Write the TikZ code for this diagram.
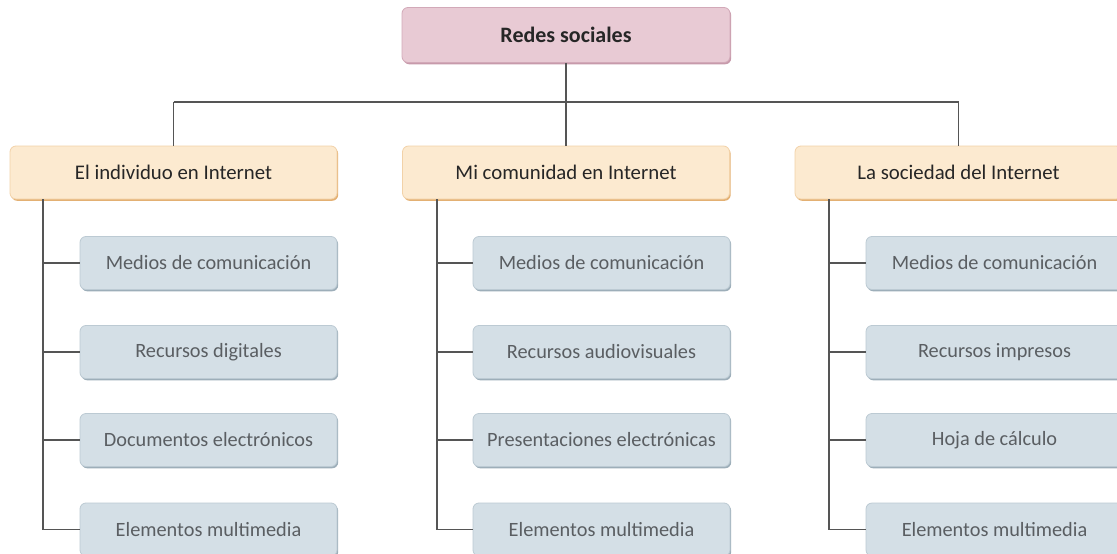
\documentclass[tikz,border=0pt]{standalone}
\usepackage{fontspec}
\setmainfont{Carlito}
\usetikzlibrary{shadows}
\definecolor{pinkfill}{HTML}{E8CAD4}
\definecolor{pinkline}{HTML}{D2A9B8}
\definecolor{pinkshadow}{HTML}{C79AAB}
\definecolor{catfill}{HTML}{FCEAD0}
\definecolor{catline}{HTML}{F2D2A8}
\definecolor{catshadow}{HTML}{E3B073}
\definecolor{leaffill}{HTML}{D4DFE6}
\definecolor{leafline}{HTML}{BCCAD3}
\definecolor{leafshadow}{HTML}{9DAEB9}
\definecolor{conn}{HTML}{555555}
\definecolor{leaftext}{HTML}{5A5E62}
\tikzset{
  base/.style={rounded corners=6pt, inner sep=0pt, align=center, line width=0.8pt},
  topbox/.style={base, fill=pinkfill, draw=pinkline, minimum width=328pt, minimum height=55pt,
    font=\fontsize{22}{26}\selectfont\bfseries, text=black!85,
    drop shadow={shadow xshift=1.2pt, shadow yshift=-1.8pt, fill=pinkshadow, opacity=1}},
  catbox/.style={base, fill=catfill, draw=catline, minimum width=327pt, minimum height=53pt,
    font=\fontsize{20.8}{24}\selectfont, text=black!85,
    drop shadow={shadow xshift=1.2pt, shadow yshift=-1.8pt, fill=catshadow, opacity=1}},
  leafbox/.style={base, fill=leaffill, draw=leafline, minimum width=257pt, minimum height=53pt,
    font=\fontsize{20.3}{24}\selectfont, text=leaftext,
    drop shadow={shadow xshift=1.2pt, shadow yshift=-1.8pt, fill=leafshadow, opacity=1}},
  link/.style={draw=conn, line width=1.7pt}
}
\begin{document}
\begin{tikzpicture}[x=1pt,y=-1pt]
\useasboundingbox (0,0) rectangle (1117,554);
\node[topbox] (top) at (566,35) {Redes sociales};
\node[catbox] (c1) at (173.5,172.5) {El individuo en Internet};
\node[catbox] (c2) at (566,172.5) {Mi comunidad en Internet};
\node[catbox] (c3) at (958.5,172.5) {La sociedad del Internet};
% leaves
\node[leafbox] (a1) at (208.5,263) {Medios de comunicación};
\node[leafbox] (a2) at (208.5,352) {Recursos digitales};
\node[leafbox] (a3) at (208.5,440) {Documentos electrónicos};
\node[leafbox] (a4) at (208.5,529.5) {Elementos multimedia};
\node[leafbox] (b1) at (601.5,263) {Medios de comunicación};
\node[leafbox] (b2) at (601.5,352) {Recursos audiovisuales};
\node[leafbox] (b3) at (601.5,440) {Presentaciones electrónicas};
\node[leafbox] (b4) at (601.5,529.5) {Elementos multimedia};
\node[leafbox] (d1) at (994.5,263) {Medios de comunicación};
\node[leafbox] (d2) at (994.5,352) {Recursos impresos};
\node[leafbox] (d3) at (994.5,440) {Hoja de cálculo};
\node[leafbox] (d4) at (994.5,529.5) {Elementos multimedia};
% connectors top
\coordinate (hub) at (566,102);
\coordinate (hl) at (173.5,102);
\coordinate (hr) at (958.5,102);
\draw[link] (top.south) -- (hub);
\draw[link] (hl) -- (hr);
\draw[link] (hl) -- (c1.north);
\draw[link] (hub) -- (c2.north);
\draw[link] (hr) -- (c3.north);
% trunks
\coordinate (t1) at (43,199);
\coordinate (t2) at (437,199);
\coordinate (t3) at (829,199);
\draw[link] (t1) |- (a4.west);
\draw[link] (t2) |- (b4.west);
\draw[link] (t3) |- (d4.west);
\foreach \n/\t in {a1/t1,a2/t1,a3/t1,b1/t2,b2/t2,b3/t2,d1/t3,d2/t3,d3/t3}{
  \draw[link] (\t |- \n.west) -- (\n.west);
}
\end{tikzpicture}
\end{document}
